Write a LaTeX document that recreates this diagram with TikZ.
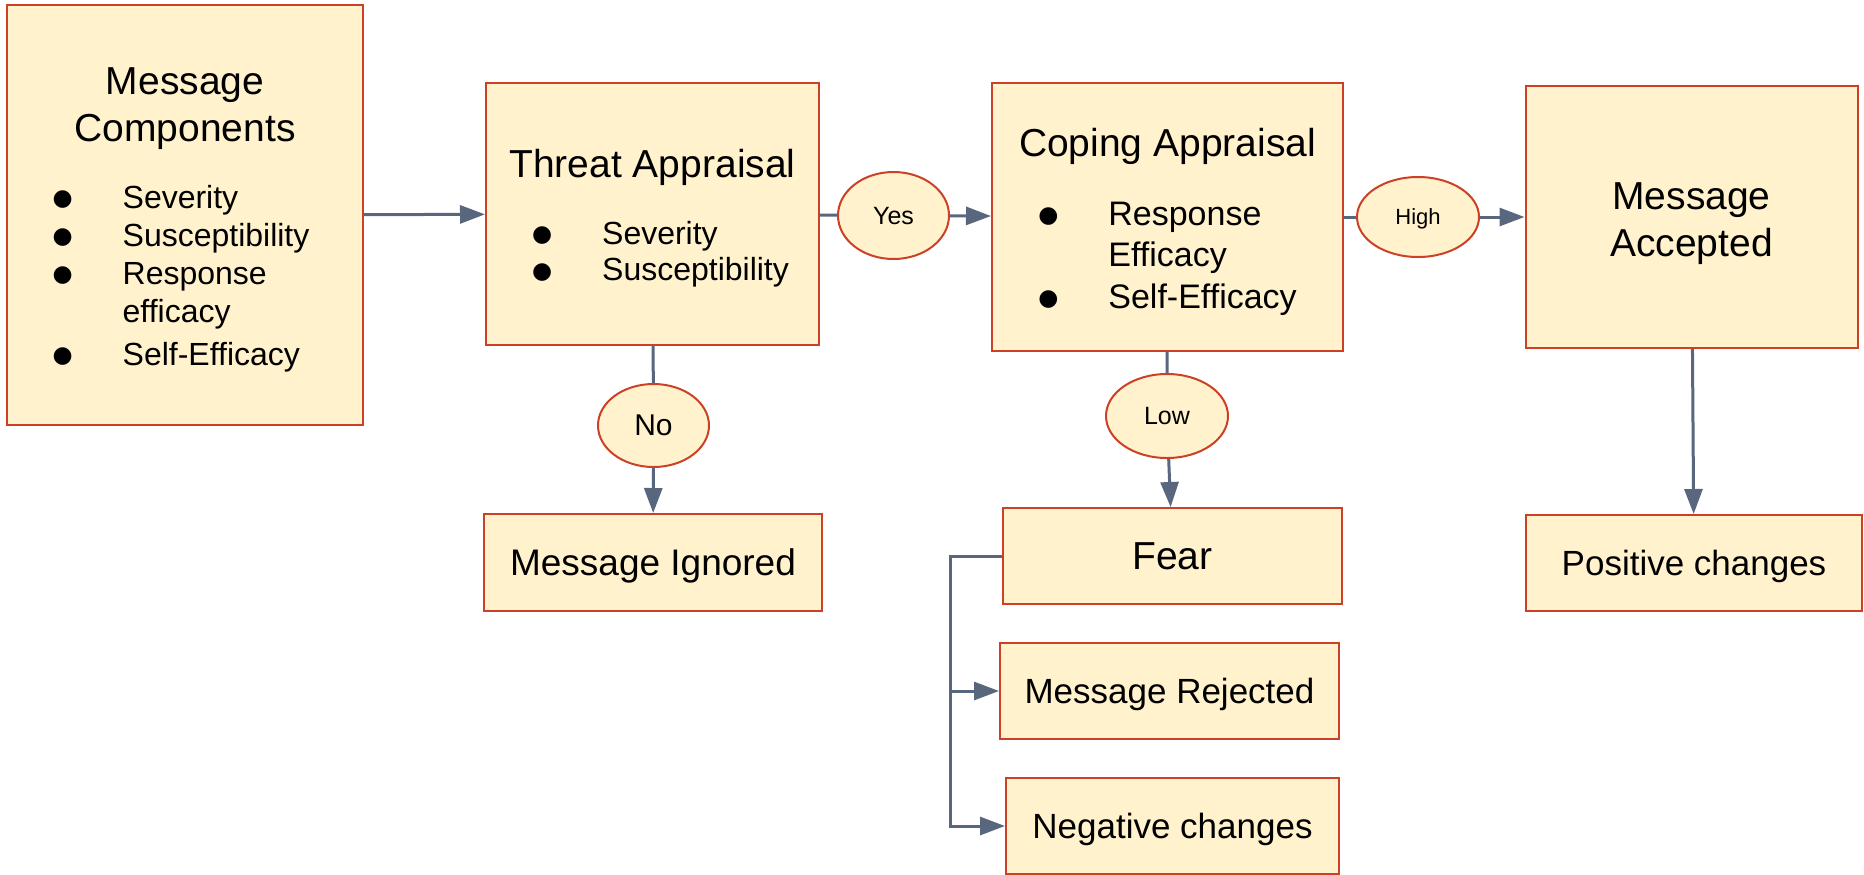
\documentclass[tikz,border=0pt]{standalone}
\usepackage{fontspec}
\setmainfont{Liberation Sans}
\newfontfamily\symfont{DejaVu Sans}
\usetikzlibrary{shapes.geometric, arrows.meta}
\definecolor{boxfill}{HTML}{FFF2CC}
\definecolor{boxline}{HTML}{CC4125}
\definecolor{linkcol}{HTML}{58677D}
\newcommand{\bul}{\raisebox{1.3pt}{\symfont\fontsize{11.5}{11}\selectfont ●}}
\newcommand{\blist}[3]{{\fontsize{#1}{#2}\selectfont\begin{tabular}[t]{@{}c@{\hspace{25pt}}l@{}}#3\end{tabular}}}

\begin{document}
\begin{tikzpicture}[x=0.5pt, y=-0.5pt,
    box/.style={draw=boxline, fill=boxfill, line width=1pt, align=center, inner sep=0pt, font=\fontsize{19.5}{23.7}\selectfont},
    small/.style={font=\fontsize{17.5}{21}\selectfont, text depth=0pt},
    oval/.style={ellipse, draw=boxline, fill=boxfill, line width=1pt, inner sep=0pt, text depth=0pt},
    line/.style={color=linkcol, line width=1.5pt},
    link/.style={line, -{Triangle[length=12.5pt, width=9pt]}}]
    \useasboundingbox (0,0) rectangle (1864,874);
    % top row
    \node[box, minimum width=178pt, minimum height=210pt] (mc) at (185,215) {\rule{0pt}{20.4pt}Message\\Components\\[9.6pt]\hspace*{-4pt}\blist{16}{19}{\bul & Severity\\ \bul & Susceptibility\\ \bul & Response\\ & efficacy\\[2.3pt] \bul & Self-Efficacy}};
    \node[box, minimum width=166.5pt, minimum height=131pt] (threat) at (652.5,214) {\rule{0pt}{20.8pt}Threat Appraisal\\[9.6pt]\hspace*{8pt}\blist{16}{18.3}{\bul & Severity\\ \bul & Susceptibility}};
    \node[box, minimum width=175.5pt, minimum height=134pt] (coping) at (1167.5,217) {\rule{0pt}{21.2pt}Coping Appraisal\\[10.8pt]\blist{17}{20.5}{\bul & Response\\ & Efficacy\\[0.5pt] \bul & Self-Efficacy}};
    \node[box, minimum width=166pt, minimum height=131pt] (accepted) at (1691.5,217) {\rule{0pt}{20pt}Message\\Accepted};
    % bottom row
    \node[box, small, minimum width=169pt, minimum height=48.5pt, font=\fontsize{18.5}{22}\selectfont] (ignored) at (653,562.5) {Message Ignored};
    \node[box, minimum width=169.5pt, minimum height=48pt, text depth=0pt] (fear) at (1172.5,556) {Fear};
    \node[box, small, minimum width=169.5pt, minimum height=48pt] (rejected) at (1169.5,691) {Message Rejected};
    \node[box, small, minimum width=166.5pt, minimum height=48pt] (negative) at (1172.5,826) {Negative changes};
    \node[box, small, minimum width=168pt, minimum height=48pt] (positive) at (1694,563) {Positive changes};
    % decisions
    \node[oval, minimum width=55.5pt, minimum height=43.5pt, font=\fontsize{12.5}{15}\selectfont] (yes) at (893.5,215.5) {Yes};
    \node[oval, minimum width=61pt, minimum height=40pt, font=\fontsize{11}{13}\selectfont] (high) at (1418,217) {High};
    \node[oval, minimum width=55.5pt, minimum height=41.5pt, font=\fontsize{15}{18}\selectfont] (no) at (653.5,425.5) {No};
    \node[oval, minimum width=61pt, minimum height=42pt, font=\fontsize{12.5}{15}\selectfont] (low) at (1167,416) {Low};
    % links
    \draw[link] (mc) -- (threat);
    \draw[line] (threat) -- (yes);
    \draw[link] (yes) -- (coping);
    \draw[line] (coping) -- (high);
    \draw[link] (high) -- (accepted);
    \draw[line] (threat) -- (no);
    \draw[link] (no) -- (ignored);
    \draw[line] (coping) -- (low);
    \draw[link] (low) -- (fear);
    \draw[link] (accepted) -- (positive);
    \draw[link] (fear.west) -- ++(-52,0) |- (negative.west);
    \draw[link] ([xshift=-26pt]fear.west) |- (rejected.west);
\end{tikzpicture}
\end{document}
